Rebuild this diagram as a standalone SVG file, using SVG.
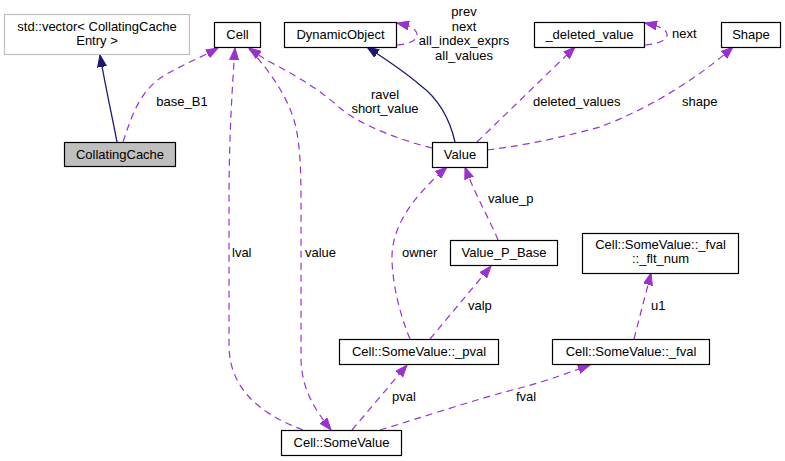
<svg xmlns="http://www.w3.org/2000/svg" width="785" height="461" viewBox="0 0 785 461">
<style>
text{font-family:"Liberation Sans",Arial,Helvetica,sans-serif;font-size:13px;fill:#000}
.n{fill:#fff;stroke:#000;stroke-width:1.2}
.c{text-anchor:middle}
.u{fill:none;stroke:#9a32cd;stroke-width:1.2;stroke-dasharray:7,5;marker-end:url(#ap)}
.i{fill:none;stroke:#191970;stroke-width:1.3;marker-end:url(#an)}
</style>
<defs>
<marker id="ap" markerUnits="userSpaceOnUse" markerWidth="13" markerHeight="10" refX="12" refY="5" orient="auto"><path d="M0,0.5 L12,5 L0,9.5 z" fill="#9a32cd" stroke="#9a32cd"/></marker>
<marker id="an" markerUnits="userSpaceOnUse" markerWidth="13" markerHeight="10" refX="12" refY="5" orient="auto"><path d="M0,0.5 L12,5 L0,9.5 z" fill="#191970" stroke="#191970"/></marker>
</defs>
<rect width="785" height="461" fill="#fff"/>
<g id="edges">
<path class="i" d="M117,142 C113,120 106,90 100,55"/>
<path class="u" d="M123,142 C132,115 140,90 165,75 C180,66 200,58 218,48"/>
<path class="u" d="M303,430 C255,412 229,385 229,345 L229,200 C229,140 232,90 235,48"/>
<path class="u" d="M249,49 C262,62 285,90 294,120 C300,140 301,170 301,200 L301,360 C302,390 315,410 331,430"/>
<path class="u" d="M432,148 C400,140 360,125 340,108 C320,90 300,78 272,63 C262,58 256,53 249,48"/>
<path class="i" d="M455,142 C450,120 440,100 420,85 C405,72 390,62 367,47"/>
<path class="u" d="M397,45 C410,44 418,40 417,34 C416,29 411,26 397,23"/>
<path class="u" d="M645,45 C658,44 668,40 667,34 C666,29 659,26 645,23"/>
<path class="u" d="M477,142 L575,47"/>
<path class="u" d="M487,150 C530,145 570,135 600,127 C640,112 690,85 733,47"/>
<path class="u" d="M410,339 C402,320 393,290 392,260 C391,225 415,195 447,167"/>
<path class="u" d="M498,240 C490,220 475,195 465,167"/>
<path class="u" d="M430,339 L491,266"/>
<path class="u" d="M634,339 L651,273"/>
<path class="u" d="M352,430 L407,365"/>
<path class="u" d="M380,430 C420,418 480,398 520,388 C550,380 570,372 590,365"/>
<text class="c" x="182" y="106">base_B1</text>
<text class="c" x="385" y="99">ravel</text>
<text class="c" x="385" y="113">short_value</text>
<text class="c" x="464" y="16">prev</text>
<text class="c" x="464" y="31">next</text>
<text class="c" x="464" y="45">all_index_exprs</text>
<text class="c" x="464" y="60">all_values</text>
<text x="672" y="38">next</text>
<text x="533" y="106">deleted_values</text>
<text x="682" y="106">shape</text>
<text x="232" y="257">lval</text>
<text x="305" y="257">value</text>
<text x="402" y="257">owner</text>
<text x="488" y="203">value_p</text>
<text x="468" y="310">valp</text>
<text x="651" y="310">u1</text>
<text x="392" y="401">pval</text>
<text x="516" y="401">fval</text>
</g>
<g id="vector"><rect x="4.5" y="14.5" width="185" height="40" fill="#fff" stroke="#bfbfbf" stroke-width="1.2"/><text class="c" x="97" y="31">std::vector&lt; CollatingCache</text><text class="c" x="97" y="45">Entry &gt;</text></g>
<g id="CollatingCache"><rect x="64.5" y="142.5" width="111" height="24" fill="#bfbfbf" stroke="#000" stroke-width="1.2"/><text class="c" x="120" y="159">CollatingCache</text></g>
<g id="Cell"><rect class="n" x="214.5" y="22.5" width="46" height="25"/><text class="c" x="237.5" y="39">Cell</text></g>
<g id="DynamicObject"><rect class="n" x="284.5" y="22.5" width="112" height="25"/><text class="c" x="340.5" y="39">DynamicObject</text></g>
<g id="deleted_value"><rect class="n" x="534.5" y="22.5" width="110" height="25"/><text class="c" x="589.5" y="39">_deleted_value</text></g>
<g id="Shape"><rect class="n" x="721.5" y="22.5" width="59" height="25"/><text class="c" x="751" y="39">Shape</text></g>
<g id="Value"><rect class="n" x="432.5" y="142.5" width="55" height="25"/><text class="c" x="460" y="159">Value</text></g>
<g id="Value_P_Base"><rect class="n" x="450.5" y="240.5" width="107" height="25"/><text class="c" x="504" y="257">Value_P_Base</text></g>
<g id="flt_num"><rect class="n" x="582.5" y="233.5" width="156" height="40"/><text class="c" x="660.5" y="249">Cell::SomeValue::_fval</text><text class="c" x="660.5" y="263">::_flt_num</text></g>
<g id="pval"><rect class="n" x="339.5" y="339.5" width="159" height="25"/><text class="c" x="419" y="356">Cell::SomeValue::_pval</text></g>
<g id="fval"><rect class="n" x="552.5" y="339.5" width="157" height="25"/><text class="c" x="631" y="356">Cell::SomeValue::_fval</text></g>
<g id="SomeValue"><rect class="n" x="281.5" y="430.5" width="120" height="25"/><text class="c" x="341.5" y="447">Cell::SomeValue</text></g>
</svg>
